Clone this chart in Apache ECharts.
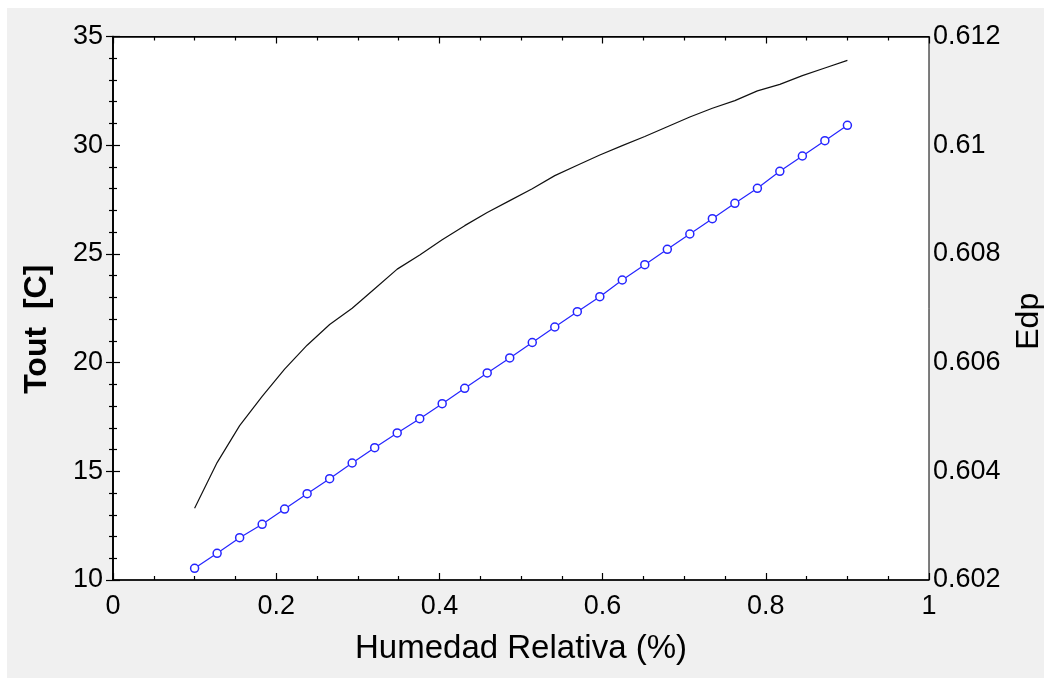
<!DOCTYPE html>
<html>
<head>
<meta charset="utf-8">
<script src="https://cdn.jsdelivr.net/npm/echarts@6/dist/echarts.min.js"></script>
<style>
  html, body { margin: 0; padding: 0; background: #fff; overflow: hidden; width: 1044px; height: 678px; }
  #chart { position: absolute; left: 0; top: 0; width: 1044px; height: 678px; }
</style>
</head>
<body>
<div id="chart"></div>
<script>
// humedad relativa (fraccion) de la tabla parametrica
var humedad = [0.1000, 0.1276, 0.1552, 0.1828, 0.2103, 0.2379, 0.2655, 0.2931, 0.3207, 0.3483,
               0.3759, 0.4034, 0.4310, 0.4586, 0.4862, 0.5138, 0.5414, 0.5690, 0.5966, 0.6241,
               0.6517, 0.6793, 0.7069, 0.7345, 0.7621, 0.7897, 0.8172, 0.8448, 0.8724, 0.9000];

// Tout [C] (eje izquierdo, linea negra)
var tout = [13.3, 15.4, 17.1, 18.45, 19.7, 20.8, 21.75, 22.5, 23.4, 24.3,
            24.95, 25.65, 26.3, 26.9, 27.45, 28.0, 28.6, 29.08, 29.55, 29.98,
            30.4, 30.85, 31.3, 31.7, 32.05, 32.5, 32.8, 33.2, 33.55, 33.9];

// Edp (eje derecho, linea azul con circulos)
var edp = [0.602215, 0.602491, 0.602778, 0.603025, 0.603306, 0.603588, 0.603864, 0.604153, 0.604434, 0.604705,
           0.604968, 0.605244, 0.605527, 0.605809, 0.606085, 0.606370, 0.606655, 0.606937, 0.607213, 0.607520,
           0.607801, 0.608085, 0.608366, 0.608648, 0.608931, 0.609207, 0.609520, 0.609801, 0.610083, 0.610366];

var xTitle = 'Humedad Relativa (%)';
var yLeftTitle = 'Tout  [C]';
var yRightTitle = 'Edp';

var font = '"Liberation Sans", Arial, sans-serif';
var lineStyle = { color: '#000', width: 1.5 };
var tickStyle = { color: '#000', width: 1.2 };

function pares(xs, ys) {
  var out = [];
  for (var i = 0; i < xs.length; i++) out.push([xs[i], ys[i]]);
  return out;
}

function fmt(v, d) {
  return String(parseFloat(v.toFixed(d)));
}

var myChart = echarts.init(document.getElementById('chart'));

var option = {
  backgroundColor: '#f0f0f0',
  animation: false,
  // franja blanca arriba y a la izquierda, como en la captura
  graphic: [
    { type: 'rect', left: 0, top: 0, shape: { width: 1044, height: 8 }, style: { fill: '#fff' }, silent: true },
    { type: 'rect', left: 0, top: 0, shape: { width: 7, height: 678 }, style: { fill: '#fff' }, silent: true }
  ],
  grid: {
    left: 113, right: 115, top: 36.5, bottom: 98,
    outerBoundsMode: 'none', containLabel: false,
    show: true, backgroundColor: '#fff', borderColor: '#000', borderWidth: 1
  },
  xAxis: [{
    type: 'value', min: 0, max: 1, interval: 0.2,
    position: 'bottom',
    name: xTitle, nameLocation: 'middle', nameGap: 52,
    nameTextStyle: { fontFamily: font, fontSize: 33, color: '#000' },
    axisLine: { show: true, lineStyle: lineStyle },
    axisTick: { show: true, inside: true, length: 7, lineStyle: tickStyle },
    minorTick: { show: true, splitNumber: 4, length: 4, lineStyle: tickStyle },
    axisLabel: { fontFamily: font, fontSize: 27, color: '#000', margin: 13,
      formatter: function (v) { return fmt(v, 2); } },
    splitLine: { show: false }
  }, {
    type: 'value', min: 0, max: 1, interval: 0.2,
    position: 'top',
    axisLine: { show: true, lineStyle: lineStyle },
    axisTick: { show: true, inside: true, length: 7, lineStyle: tickStyle },
    minorTick: { show: true, splitNumber: 4, length: 4, lineStyle: tickStyle },
    axisLabel: { show: false },
    splitLine: { show: false }
  }],
  yAxis: [{
    type: 'value', min: 10, max: 35, interval: 5,
    position: 'left',
    name: yLeftTitle, nameLocation: 'middle', nameGap: 60, nameRotate: 90,
    nameTextStyle: { fontFamily: font, fontSize: 32, fontWeight: 'bold', color: '#000',
      padding: [0, 42, 0, 0] },
    axisLine: { show: true, lineStyle: lineStyle },
    axisTick: { show: true, inside: true, length: 7, lineStyle: tickStyle },
    minorTick: { show: true, splitNumber: 5, length: 4, lineStyle: tickStyle },
    axisLabel: { fontFamily: font, fontSize: 27, color: '#000', margin: 10 },
    splitLine: { show: false }
  }, {
    type: 'value', min: 0.602, max: 0.612, interval: 0.002,
    position: 'right',
    name: yRightTitle, nameLocation: 'middle', nameGap: 84, nameRotate: 90,
    nameTextStyle: { fontFamily: font, fontSize: 32, color: '#000',
      padding: [0, 26, 0, 0] },
    axisLine: { show: true, lineStyle: lineStyle },
    axisTick: { show: true, inside: true, length: 7, lineStyle: tickStyle },
    minorTick: { show: true, splitNumber: 5, length: 4, lineStyle: tickStyle },
    axisLabel: { fontFamily: font, fontSize: 27, color: '#000', margin: 4,
      formatter: function (v) { return fmt(v, 3); } },
    splitLine: { show: false }
  }],
  series: [{
    name: 'Tout',
    type: 'line',
    xAxisIndex: 0, yAxisIndex: 0,
    data: pares(humedad, tout),
    showSymbol: false,
    lineStyle: { color: '#111', width: 1.2 },
    itemStyle: { color: '#111' }
  }, {
    name: 'Edp',
    type: 'line',
    xAxisIndex: 0, yAxisIndex: 1,
    data: pares(humedad, edp),
    symbol: 'circle', symbolSize: 8,
    lineStyle: { color: '#2525ff', width: 1.2 },
    itemStyle: { color: '#fff', borderColor: '#2525ff', borderWidth: 1.5 }
  }]
};

myChart.setOption(option);
</script>
</body>
</html>
